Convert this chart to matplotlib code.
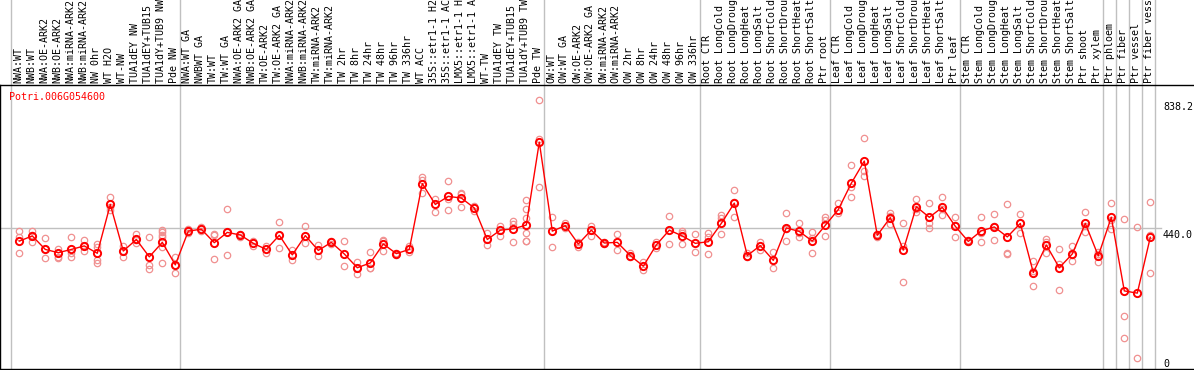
import matplotlib
matplotlib.use("Agg")
import matplotlib.pyplot as plt

# sample labels, grouped the same way as the vertical separators
grp_nw = ["NWA:WT", "NWB:WT", "NWA:OE-ARK2", "NWB:OE-ARK2", "NWA:miRNA-ARK2",
          "NWB:miRNA-ARK2", "NW 0hr", "WT H2O", "WT-NW", "TUA1dEY NW",
          "TUA1dEY+TUB15 NW", "TUA1dY+TUB9 NW", "Pde NW"]
grp_tw = ["NWA:WT GA", "NWBWT GA", "TW:WT", "TW:WT GA", "NWA:OE-ARK2 GA",
          "NWB:OE-ARK2 GA", "TW:OE-ARK2", "TW:OE-ARK2 GA", "NWA:miRNA-ARK2 GA",
          "NWB:miRNA-ARK2 GA", "TW:miRNA-ARK2", "TW:miRNA-ARK2 GA", "TW 2hr",
          "TW 8hr", "TW 24hr", "TW 48hr", "TW 96hr", "TW 336hr", "WT ACC",
          "35S::etr1-1 H2O", "35S::etr1-1 ACC", "LMX5::etr1-1 H2O",
          "LMX5::etr1-1 ACC", "WT-TW", "TUA1dEY TW", "TUA1dEY+TUB15 TW",
          "TUA1dY+TUB9 TW", "Pde TW"]
grp_ow = ["OW:WT", "OW:WT GA", "OW:OE-ARK2", "OW:OE-ARK2 GA", "OW:miRNA-ARK2",
          "OW:miRNA-ARK2 GA", "OW 2hr", "OW 8hr", "OW 24hr", "OW 48hr",
          "OW 96hr", "OW 336hr"]
stress = ["CTR", "LongCold", "LongDrought", "LongHeat", "LongSalt",
          "ShortCold", "ShortDrought", "ShortHeat", "ShortSalt"]
grp_root = ["Root " + s for s in stress] + ["Ptr root"]
grp_leaf = ["Leaf " + s for s in stress] + ["Ptr leaf"]
grp_stem = ["Stem " + s for s in stress] + ["Ptr shoot", "Ptr xylem"]
grp_wood = [["Ptr phloem"], ["Ptr fiber"], ["Ptr vessel"], ["Ptr fiber vessel"]]

groups = [grp_nw, grp_tw, grp_ow, grp_root, grp_leaf, grp_stem] + grp_wood
labels = [l for g in groups for l in g]

# mean expression per sample
means = [398, 414, 372, 362, 372, 383, 360, 512, 367, 403, 349, 394, 324,
         429, 435, 393, 425, 417, 391, 372, 416, 355, 415, 369, 394, 358, 315,
         330, 389, 359, 372, 577, 512, 537, 532, 501, 403, 432, 436, 448, 706,
         429, 446, 389, 432, 392, 394, 353, 320, 386, 432, 414, 391,
         396, 453, 516, 353, 384, 338, 439, 428, 398, 447,
         496, 578, 647, 416, 471, 370, 505, 472, 503, 444,
         397, 430, 442, 411, 453, 300, 386, 315, 358, 453, 352,
         472, 243, 236, 410]

# replicate values per sample
reps = [[429, 412, 362], [430, 416, 396], [408, 372, 344], [372, 362, 349, 344],
        [412, 362, 347], [401, 383, 366], [389, 380, 339, 331], [536, 505, 495],
        [384, 367, 350], [420, 400, 391], [412, 324, 310],
        [433, 425, 418, 412, 380, 331], [349, 324, 298],
        [435, 424], [443, 430], [417, 420, 341], [497, 425, 355], [420, 410],
        [399, 384], [383, 362], [456, 416, 376], [370, 339], [445, 391],
        [386, 353], [398, 390], [397, 320], [334, 315, 295], [363, 313, 315],
        [401, 398, 368], [362, 355], [383, 365], [598, 588, 547], [529, 488],
        [585, 528, 495], [547, 545, 503], [507, 492], [422, 387], [446, 415],
        [461, 450, 396], [526, 497, 470, 422, 399, 397], [838.2, 715, 565],
        [474, 379], [453, 438], [396, 381], [446, 415], [395, 389], [419, 369],
        [360, 347], [334, 308], [394, 377], [476, 388], [430, 424, 388],
        [419, 365],
        [424, 410, 357], [479, 471, 419], [556, 520, 472], [360, 350],
        [396, 370], [363, 313], [484, 435, 399], [453, 422, 412],
        [426, 408, 360], [472, 464, 414],
        [517, 484], [634, 567, 534], [718, 617, 601], [420, 412],
        [484, 475, 451], [453, 384, 271], [529, 497, 489], [516, 455, 438],
        [534, 497, 479], [474, 448, 410],
        [400, 394], [472, 424, 394], [481, 445, 400], [512, 362, 358],
        [481, 454, 424], [336, 305, 258], [404, 394, 360], [372, 327, 246],
        [384, 355, 336], [488, 445, 427], [363, 358, 334],
        [516, 465, 435], [466, 164, 96], [441, 35], [519, 417, 299]]

gene = "Potri.006G054600"
ytick_vals = [0, 440, 838.2]
ytick_text = ["0", "440.0", "838.2"]

W, H = 1194, 370
fig = plt.figure(figsize=(W / 100, H / 100), dpi=100)
ax = fig.add_axes([0, 1 / H, 1, 284 / H])
ax.set_xlim(-19.3 / 13, (W - 19.3) / 13)
ax.set_ylim(0, 284 / 0.3214)
ax.set_xticks([])
ax.set_yticks([])
for s in ["left", "top", "bottom"]:
    ax.spines[s].set_linewidth(1.0)
    ax.spines[s].set_color("black")
ax.spines["right"].set_visible(False)

mono = "DejaVu Sans Mono"
rep_col = "#f09090"

# gridline at the middle tick
ax.axhline(ytick_vals[1], xmin=0, xmax=1161 / W, color="#c0c0c0", lw=1, zorder=1)

# group separators, running up through the label area
pos = -1
bounds = [pos]
for g in groups:
    pos += len(g)
    bounds.append(pos)
for b in bounds:
    ax.axvline(b + 0.35, ymin=0, ymax=370 / 284, color="#c0c0c0", lw=1,
               clip_on=False, zorder=1)

# replicates
for i, r in enumerate(reps):
    ax.plot([i] * len(r), r, linestyle="none", marker="o", ms=4.6,
            mfc="none", mec=rep_col, mew=0.9, clip_on=False, zorder=2)

# mean line and markers
x = list(range(len(means)))
ax.plot(x, means, color="red", lw=1, zorder=3)
ax.plot(x, means, linestyle="none", marker="o", ms=5.2, mfc="none",
        mec="red", mew=1.4, zorder=4, clip_on=False)

# sample labels
for i, lab in enumerate(labels):
    ax.text(i - 0.08, 1 + 2 / 284, lab, rotation=90, ha="center", va="bottom",
            family=mono, fontsize=7.2, transform=ax.get_xaxis_transform(),
            clip_on=False)

# y tick labels on the right
xt = (1163 - 19.3) / 13
for v, t in zip(ytick_vals, ytick_text):
    if v == 0:
        ax.text(xt, v, t, ha="left", va="bottom", family=mono, fontsize=7.2)
    else:
        ax.annotate(t, (xt, v), xytext=(0, -1.5), textcoords="offset points",
                    ha="left", va="top", family=mono, fontsize=7.2)

ax.text(9 / W, (369 - 97) / 284, gene, color="red", ha="left", va="center",
        family=mono, fontsize=7.2, transform=ax.transAxes)

fig.savefig("out.png", dpi=100)
